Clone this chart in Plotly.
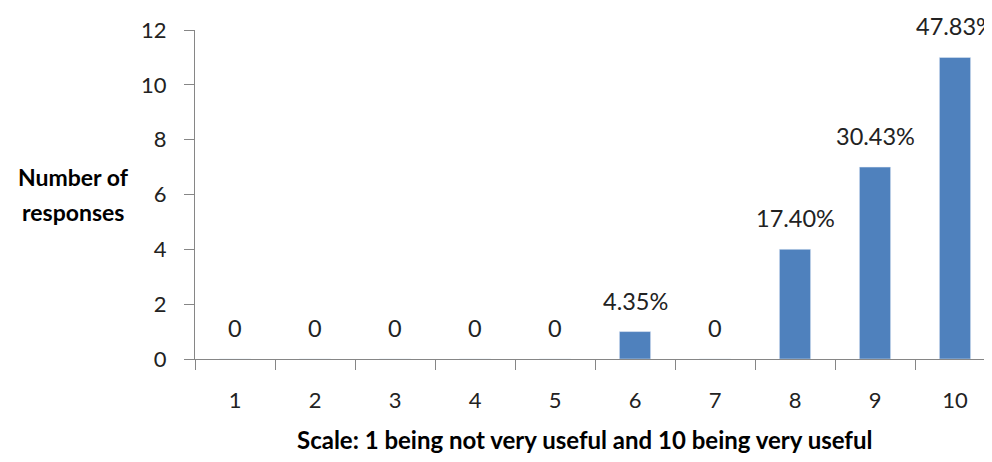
import plotly.graph_objects as go

categories = ["1", "2", "3", "4", "5", "6", "7", "8", "9", "10"]
responses = [0, 0, 0, 0, 0, 1, 0, 4, 7, 11]
labels = ["0", "0", "0", "0", "0", "4.35%", "0", "17.40%", "30.43%", "47.83%"]
y_title_lines = ["Number of", "responses"]
x_title = "Scale: 1 being not very useful and 10 being very useful"

FONT = "Lato, 'Open Sans', sans-serif"
fig = go.Figure()
fig.add_trace(go.Bar(x=categories, y=responses, marker_color="#4F81BD",
                     width=0.39, hoverinfo="skip"))
for i, (v, t) in enumerate(zip(responses, labels)):
    fig.add_annotation(x=i, y=v, text=t, showarrow=False, yanchor="middle",
                       yshift=31, font=dict(family=FONT, size=23.5, color="#222"))

for line, ypos in zip(y_title_lines, [0.553, 0.447]):
    fig.add_annotation(xref="paper", yref="paper", x=-0.153, y=ypos, xanchor="center",
                       yanchor="middle", text="<b>" + line + "</b>", showarrow=False,
                       font=dict(family=FONT, size=23, color="#000"))
fig.add_annotation(xref="paper", yref="paper", x=0.489, y=-0.246, yanchor="middle",
                   xanchor="center", text="<b>" + x_title + "</b>",
                   showarrow=False, font=dict(family=FONT, size=24, color="#000"))

fig.update_layout(
    width=984, height=454, margin=dict(l=187, r=0, t=22, b=103),
    plot_bgcolor="white", paper_bgcolor="white", showlegend=False,
    xaxis=dict(type="category", range=[-0.5, 9.4625], tickson="boundaries",
               ticks="outside", ticklen=10, tickcolor="#868686",
               showline=True, linecolor="#868686", linewidth=1,
               ticklabelstandoff=22, showgrid=False, automargin=False,
               tickfont=dict(family=FONT, size=22, color="#222")),
    yaxis=dict(range=[0, 12], dtick=2, ticks="outside", ticklen=10,
               tickcolor="#868686", showline=True, linecolor="#868686",
               linewidth=1, showgrid=False, zeroline=False,
               ticklabelstandoff=13, automargin=False,
               tickfont=dict(family=FONT, size=22, color="#222")),
)
fig.write_html("out.html")
